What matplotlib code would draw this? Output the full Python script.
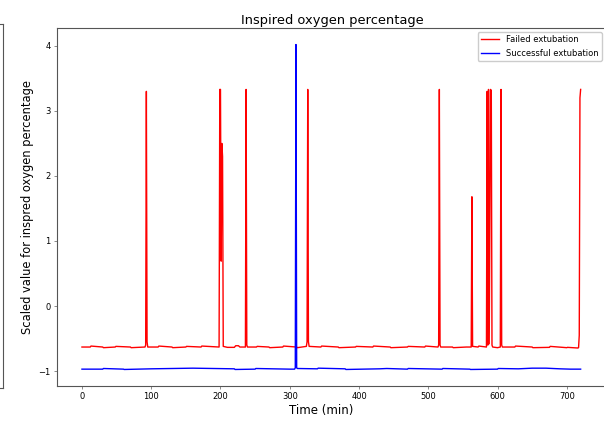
import matplotlib
matplotlib.use('Agg')
import matplotlib.pyplot as plt

# failed extubation trace (time in min, scaled value)
red_time = [0, 12, 13, 30, 31, 48, 49, 70, 71, 91, 92, 93, 94, 95,
            110, 111, 130, 131, 150, 151, 172, 173, 198,
            199, 200, 201, 202, 203, 204, 210, 220, 222, 226, 228, 236,
            237, 238, 239, 252, 253, 270, 271, 290, 291, 310, 311, 324,
            325, 326, 327, 328, 345, 346, 370, 371, 395, 396, 420, 421, 445,
            446, 470, 471, 495, 496, 514, 515, 516, 517, 518, 535, 536, 555,
            562, 563, 564, 572, 573, 584, 585, 586, 587, 588, 590, 591,
            592, 593, 600, 604, 605, 606, 607, 625, 626, 650, 651, 675, 676,
            700, 701, 716, 717, 718, 719, 720]
red_value = [-0.63, -0.63, -0.615, -0.63, -0.64, -0.63, -0.62, -0.63, -0.64, -0.63, -0.60, 3.30, -0.55, -0.63,
             -0.63, -0.615, -0.63, -0.64, -0.63, -0.62, -0.63, -0.615, -0.63,
             3.33, 3.33, 0.69, 2.50, 2.30, -0.62, -0.635, -0.635, -0.61, -0.61, -0.63, -0.63,
             3.33, -0.60, -0.63, -0.63, -0.62, -0.63, -0.64, -0.63, -0.615, -0.63, -0.64, -0.62,
             -0.55, 3.33, -0.55, -0.62, -0.63, -0.615, -0.63, -0.64, -0.63, -0.62, -0.63, -0.615, -0.63,
             -0.64, -0.63, -0.62, -0.63, -0.615, -0.63, -0.60, 3.33, -0.60, -0.63, -0.63, -0.64, -0.63,
             -0.63, 1.68, -0.62, -0.63, -0.615, -0.63, 3.30, -0.60, 3.33, -0.58, 3.33, 3.30,
             -0.60, -0.63, -0.64, -0.63, 3.33, -0.60, -0.63, -0.63, -0.615, -0.63, -0.64, -0.635, -0.62,
             -0.64, -0.635, -0.645, -0.64, -0.45, 3.20, 3.33]

# successful extubation trace
blue_time = [0, 30, 31, 60, 61, 100, 130, 160, 190, 220, 221, 250, 251,
             300, 307, 308, 309, 310, 311, 340, 341, 380, 381, 430, 440, 470, 471,
             520, 521, 560, 561, 600, 601, 630, 650, 670, 690, 705, 720]
blue_value = [-0.97, -0.97, -0.96, -0.97, -0.975, -0.965, -0.96, -0.955, -0.96, -0.965, -0.975, -0.97, -0.96,
              -0.97, -0.97, -0.95, 4.02, -0.95, -0.96, -0.965, -0.955, -0.965, -0.975, -0.965, -0.96, -0.97, -0.96,
              -0.97, -0.96, -0.97, -0.975, -0.97, -0.96, -0.965, -0.955, -0.955, -0.965, -0.97, -0.97]

x_ticks = [0, 100, 200, 300, 400, 500, 600, 700]
y_ticks = [-1, 0, 1, 2, 3, 4]

fig = plt.figure(figsize=(6.04, 4.21), dpi=100)

# edge of the neighbouring panel that was cut off on the left
ax0 = fig.add_axes([-0.1, 0.0784, 0.105, 0.8646])
ax0.set_xticks([])
ax0.set_yticks([])
ax0.spines['left'].set_visible(False)
for s in ['top', 'right', 'bottom']:
    ax0.spines[s].set_color('#555555')
    ax0.spines[s].set_linewidth(0.8)

# main panel runs past the right edge of the image (cropped)
ax = fig.add_axes([0.0944, 0.0838, 0.93, 0.849])
ax.plot(red_time, red_value, color='red', lw=1.0, label='Failed extubation')
ax.plot(blue_time, blue_value, color='blue', lw=1.0, label='Successful extubation')

ax.set_xlim(-36, 775)
ax.set_xticks(x_ticks)
ax.set_yticks(y_ticks)
ax.tick_params(labelsize=6, length=2.5, width=0.6, color='#777777', pad=2)
for s in ax.spines.values():
    s.set_color('#555555')
    s.set_linewidth(0.8)

ax.set_title('Inspired oxygen percentage', fontsize=9.4, pad=3, x=0.4896)
ax.set_xlabel('Time (min)', fontsize=8.5, labelpad=2, x=0.47)
ax.set_ylabel('Scaled value for inspred oxygen percentage', fontsize=8.3, labelpad=3)
ax.legend(loc='upper right', bbox_to_anchor=(602 / 604, 1 - 32 / 421),
          bbox_transform=fig.transFigure, borderaxespad=0,
          fontsize=6, handlelength=2.2, framealpha=1)

fig.savefig('out.png', dpi=100, facecolor='w')
